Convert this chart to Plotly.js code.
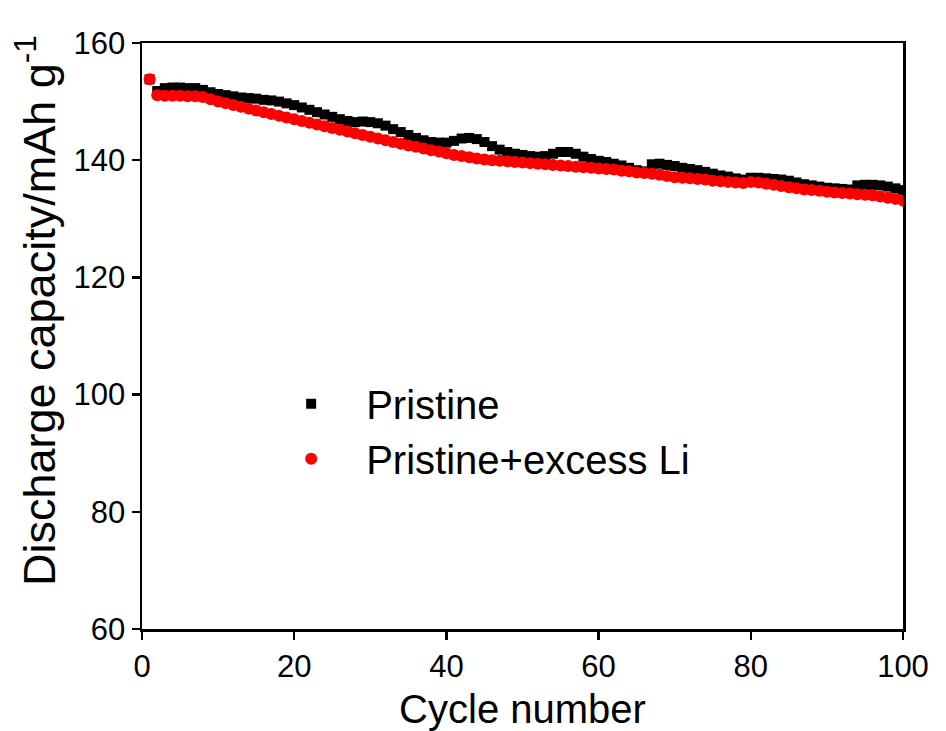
<!DOCTYPE html>
<html>
<head>
<meta charset="utf-8">
<script src="https://cdn.plot.ly/plotly-3.0.1.min.js"></script>
<style>html,body{margin:0;padding:0;background:#fff;}#chart{width:946px;height:731px;}</style>
</head>
<body>
<div id="chart"></div>
<script>
// Cycle numbers
var cycles = [];
for (var i = 1; i <= 100; i++) cycles.push(i);

// Discharge capacity (mAh g^-1), Pristine
var pristine = [
153.8,151.8,152.3,152.4,152.4,152.3,152.3,152.0,151.6,151.3,
151.1,150.9,150.7,150.6,150.5,150.3,150.2,150.0,149.7,149.4,
149.0,148.6,148.2,147.8,147.4,147.0,146.7,146.5,146.6,146.5,
146.3,145.9,145.3,144.8,144.3,143.8,143.4,143.1,143.0,143.0,
143.3,143.7,143.8,143.6,143.1,142.4,141.8,141.4,141.1,140.9,
140.7,140.6,140.7,141.1,141.4,141.4,141.1,140.6,140.2,139.9,
139.7,139.4,139.1,138.7,138.3,138.1,139.3,139.4,139.2,139.0,
138.7,138.5,138.3,138.0,137.7,137.4,137.2,136.9,136.7,137.0,
137.0,136.9,136.8,136.7,136.5,136.2,135.9,135.7,135.5,135.3,
135.2,135.1,135.0,135.7,135.8,135.8,135.7,135.5,135.2,134.9
];

// Discharge capacity (mAh g^-1), Pristine+excess Li
var excessLi = [
153.8,151.1,151.0,151.0,151.0,150.9,150.9,150.8,150.4,150.0,
149.7,149.4,149.1,148.8,148.5,148.2,147.9,147.6,147.3,147.0,
146.7,146.4,146.1,145.8,145.5,145.2,144.9,144.6,144.3,144.0,
143.7,143.4,143.1,142.8,142.5,142.3,142.0,141.7,141.5,141.2,
140.9,140.7,140.5,140.3,140.1,140.0,139.9,139.8,139.7,139.6,
139.5,139.4,139.3,139.2,139.1,139.0,138.9,138.8,138.7,138.6,
138.5,138.4,138.2,138.1,137.9,137.8,137.7,137.5,137.3,137.1,
137.0,136.9,136.8,136.7,136.5,136.4,136.3,136.2,136.1,136.3,
136.2,136.0,135.8,135.6,135.4,135.2,135.0,134.9,134.8,134.6,
134.5,134.4,134.3,134.2,134.1,134.0,133.8,133.6,133.4,133.1
];

var seriesNames = ["Pristine", "Pristine+excess Li"];
var xTicks = [0, 20, 40, 60, 80, 100];
var yTicks = [60, 80, 100, 120, 140, 160];
var xTitle = "Cycle number";
var yTitle = "Discharge capacity/mAh g<sup>-1</sup>";

var FONT = "Liberation Sans, Arial, sans-serif";

var traces = [
  {x: cycles, y: pristine, name: seriesNames[0], type: "scatter", mode: "markers",
   marker: {symbol: "square", size: 10, color: "#000000"}},
  {x: cycles, y: excessLi, name: seriesNames[1], type: "scatter", mode: "markers",
   marker: {symbol: "circle", size: 12, color: "#ff0000"}}
];

var axisCommon = {
  showgrid: false, zeroline: false, showline: true, linecolor: "#000", linewidth: 2.5,
  mirror: true, ticks: "outside", ticklen: 8, tickwidth: 2.5, tickcolor: "#000",
  tickfont: {family: FONT, size: 31, color: "#000"}
};

var layout = {
  width: 946, height: 731,
  margin: {l: 142, r: 43, t: 43, b: 102},
  paper_bgcolor: "#fff", plot_bgcolor: "#fff",
  showlegend: true,
  legend: {x: 0.15, y: 0.44, xanchor: "left", yanchor: "top", bgcolor: "rgba(0,0,0,0)",
           font: {family: FONT, size: 40, color: "#000"}, itemwidth: 100, tracegroupgap: 0},
  xaxis: Object.assign({}, axisCommon, {
    range: [0, 100], tickvals: xTicks, ticktext: xTicks.map(String),
    title: {text: xTitle, font: {family: FONT, size: 40, color: "#000"}, standoff: 16}
  }),
  yaxis: Object.assign({}, axisCommon, {
    range: [60, 160], tickvals: yTicks, ticktext: yTicks.map(String)
  }),
  annotations: [{
    text: yTitle, xref: "paper", yref: "paper", x: -0.139, y: 0.543,
    xanchor: "center", yanchor: "middle", textangle: -90, showarrow: false,
    font: {family: FONT, size: 45, color: "#000"}
  }]
};

Plotly.newPlot("chart", traces, layout, {staticPlot: true});
</script>
</body>
</html>
